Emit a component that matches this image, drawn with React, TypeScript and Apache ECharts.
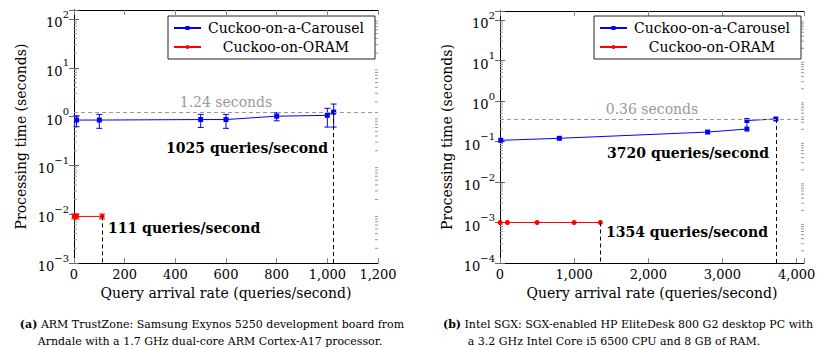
import React, { useEffect, useRef } from 'react';
import * as echarts from 'echarts';

// ---------- data ----------
const seriesNames = ['Cuckoo-on-a-Carousel', 'Cuckoo-on-ORAM'];

// (a) ARM TrustZone
const armCarouselX = [10, 100, 500, 600, 800, 1000, 1025];
const armCarouselY = [0.85, 0.85, 0.87, 0.87, 1.02, 1.06, 1.24];
const armCarouselLow = [0.62, 0.575, 0.6, 0.575, 0.82, 0.61, 0.61];
const armCarouselHigh = [1.04, 1.11, 1.11, 1.11, 1.2, 1.48, 1.81];
const armOramX = [1, 10, 111];
const armOramY = [0.009, 0.009, 0.009];
const armOramLow = [0.008, 0.008, 0.008];
const armOramHigh = [0.0101, 0.0101, 0.0101];
const armMaxTime = 1.24;
const armMaxRate = 1025;
const armOramRate = 111;
const armXRange = [0, 1200];
const armXStep = 200;
const armYRange = [0.001, 153];

// (b) Intel SGX
const sgxCarouselX = [10, 800, 2800, 3330, 3330, 3720];
const sgxCarouselY = [0.107, 0.12, 0.171, 0.203, 0.33, 0.36];
const sgxOramX = [1, 100, 500, 1000, 1354];
const sgxOramY = [0.001, 0.001, 0.001, 0.001, 0.001];
const sgxMaxTime = 0.36;
const sgxMaxRate = 3720;
const sgxOramRate = 1354;
const sgxXRange = [0, 4100];
const sgxXStep = 1000;
const sgxYRange = [0.0001, 167];

const captionA1 = '{b|(a)} ARM TrustZone: Samsung Exynos 5250 development board from';
const captionA2 = 'Arndale with a 1.7 GHz dual-core ARM Cortex-A17 processor.';
const captionB1 = '{b|(b)} Intel SGX: SGX-enabled HP EliteDesk 800 G2 desktop PC with';
const captionB2 = 'a 3.2 GHz Intel Core i5 6500 CPU and 8 GB of RAM.';

const FONT = "'DejaVu Serif', 'Liberation Serif', serif";
const BLUE = '#0000ff';
const RED = '#ff0000';

function minorTickValues(min: number, max: number): number[] {
  const out: number[] = [];
  for (let k = Math.floor(Math.log10(min)); k <= Math.ceil(Math.log10(max)); k++) {
    for (let m = 2; m <= 9; m++) {
      const v = m * Math.pow(10, k);
      if (v > min && v < max) out.push(v);
    }
  }
  return out;
}

function powLabel(v: number): string {
  const e = Math.log10(v);
  const r = Math.round(e);
  if (Math.abs(e - r) > 1e-6) return '';
  const s = r < 0 ? '\u2212' + Math.abs(r) : String(r);
  return `{b|10}{s|${s}}`;
}

const yLabelRich = {
  b: { fontSize: 13, fontFamily: FONT, color: '#000', lineHeight: 20, verticalAlign: 'bottom' },
  s: { fontSize: 10, fontFamily: FONT, color: '#000', lineHeight: 20, verticalAlign: 'top' },
};

export default function App() {
  const ref = useRef<HTMLDivElement>(null);
  useEffect(() => {
    if (!ref.current) return;
    const chart = echarts.init(ref.current, undefined, { renderer: 'svg' });

    const grids = [
      { left: 74, top: 10, width: 304, height: 253 },
      { left: 500, top: 11, width: 304, height: 252 },
    ];
    const xRanges = [armXRange, sgxXRange];
    const xSteps = [armXStep, sgxXStep];
    const yRanges = [armYRange, sgxYRange];

    const xAxes: any[] = [];
    const yAxes: any[] = [];
    for (let g = 0; g < 2; g++) {
      const [xmin, xmax] = xRanges[g];
      const [ymin, ymax] = yRanges[g];
      xAxes.push({
        type: 'value', gridIndex: g, position: 'bottom', min: xmin, max: xmax, interval: xSteps[g],
        name: 'Query arrival rate (queries/second)', nameLocation: 'middle', nameGap: 21,
        nameTextStyle: { fontSize: 14, fontFamily: FONT, color: '#000' },
        axisLine: { show: true, lineStyle: { color: '#000', width: 1 } },
        axisTick: { show: true, inside: true, length: 5, lineStyle: { color: '#888' } },
        axisLabel: {
          margin: 5, fontSize: 13, fontFamily: FONT, color: '#000',
          formatter: (v: number) => (v % xSteps[g] !== 0 ? '' : v.toLocaleString('en-US')),
        },
        splitLine: { show: false },
      });
      xAxes.push({
        type: 'value', gridIndex: g, position: 'top', min: xmin, max: xmax, interval: xSteps[g],
        axisLine: { show: true, lineStyle: { color: '#000', width: 1 } },
        axisTick: { show: true, inside: true, length: 5, lineStyle: { color: '#888' } },
        axisLabel: { show: false }, splitLine: { show: false },
      });
      yAxes.push({
        type: 'log', logBase: 10, gridIndex: g, position: 'left', min: ymin, max: ymax,
        name: 'Processing time (seconds)', nameLocation: 'middle', nameGap: 46,
        nameTextStyle: { fontSize: 14, fontFamily: FONT, color: '#000' },
        axisLine: { show: true, lineStyle: { color: '#000', width: 1 } },
        axisTick: { show: true, inside: true, length: 5, lineStyle: { color: '#666' } },
        axisLabel: { margin: 5, formatter: powLabel, rich: yLabelRich, fontFamily: FONT },
        splitLine: { show: false }, minorTick: { show: false },
      });
      yAxes.push({
        type: 'log', logBase: 10, gridIndex: g, position: 'right', min: ymin, max: ymax,
        axisLine: { show: true, lineStyle: { color: '#000', width: 1 } },
        axisTick: { show: true, inside: true, length: 5, lineStyle: { color: '#666' } },
        axisLabel: { show: false }, splitLine: { show: false },
      });
    }

    const minorSeries = (g: number) => ({
      type: 'custom', xAxisIndex: g * 2, yAxisIndex: g * 2, silent: true, clip: false,
      data: minorTickValues(yRanges[g][0], yRanges[g][1]).map((v) => [xRanges[g][0], v]),
      renderItem: (params: any, api: any) => {
        const p = api.coord([api.value(0), api.value(1)]);
        const cs = params.coordSys;
        const st = { stroke: '#999', lineWidth: 1 };
        return {
          type: 'group',
          children: [
            { type: 'line', shape: { x1: cs.x, y1: p[1], x2: cs.x + 3, y2: p[1] }, style: st },
            { type: 'line', shape: { x1: cs.x + cs.width - 3, y1: p[1], x2: cs.x + cs.width, y2: p[1] }, style: st },
          ],
        };
      },
    });

    const errorSeries = (g: number, xs: number[], lo: number[], hi: number[], color: string) => ({
      type: 'custom', xAxisIndex: g * 2, yAxisIndex: g * 2, silent: true, clip: false, z: 3,
      data: xs.map((x, i) => [x, lo[i], hi[i]]),
      renderItem: (_p: any, api: any) => {
        const a = api.coord([api.value(0), api.value(1)]);
        const b = api.coord([api.value(0), api.value(2)]);
        const st = { stroke: color, lineWidth: 1 };
        return {
          type: 'group',
          children: [
            { type: 'line', shape: { x1: a[0], y1: a[1], x2: b[0], y2: b[1] }, style: st },
            { type: 'line', shape: { x1: a[0] - 3, y1: a[1], x2: a[0] + 3, y2: a[1] }, style: st },
            { type: 'line', shape: { x1: b[0] - 3, y1: b[1], x2: b[0] + 3, y2: b[1] }, style: st },
          ],
        };
      },
    });

    const dashedBlack = { color: '#000', type: [4, 3], width: 1 };
    const dashedGray = { color: '#999', type: [4, 3], width: 1 };

    const maxMark = (time: number, rate: number, ymin: number) => ({
      symbol: 'none', silent: true, animation: false,
      data: [
        {
          yAxis: time, lineStyle: dashedGray,
          label: {
            show: true, position: 'insideMiddleTop', distance: 3, formatter: `${time} seconds`,
            color: '#999', fontSize: 14, fontFamily: FONT,
          },
        },
        [
          { coord: [rate, time], lineStyle: dashedBlack, label: { show: false } },
          { coord: [rate, ymin] },
        ],
      ],
    });
    const oramMark = (rate: number, time: number, ymin: number) => ({
      symbol: 'none', silent: true, animation: false,
      data: [[
        { coord: [rate, time], lineStyle: dashedBlack, label: { show: false } },
        { coord: [rate, ymin] },
      ]],
    });

    const lineSeries = (g: number, name: string, xs: number[], ys: number[], color: string, symbol: string, size: number, markLine: any) => ({
      type: 'line', name, xAxisIndex: g * 2, yAxisIndex: g * 2, clip: false, z: 4,
      data: xs.map((x, i) => [x, ys[i]]),
      symbol, symbolSize: size, showSymbol: true,
      lineStyle: { color, width: 1 }, itemStyle: { color },
      markLine,
    });

    const legend = (left: number) => ({
      left, top: 16, orient: 'vertical', padding: [5, 9, 5, 5], itemGap: 5,
      itemWidth: 27, itemHeight: 5,
      borderColor: '#222', borderWidth: 1, backgroundColor: '#fff',
      data: seriesNames, selectedMode: false,
      textStyle: {
        fontFamily: FONT, fontSize: 14, color: '#000',
        rich: { c: { width: 160, align: 'center', fontSize: 14, fontFamily: FONT, lineHeight: 16 } },
      },
      formatter: (n: string) => `{c|${n}}`,
    });

    const annText = (x: number, y: number, text: string, align: string) => ({
      type: 'text', x, y, silent: true,
      style: { text, fontFamily: FONT, fontSize: 14, fontWeight: 'bold', fill: '#000', align, verticalAlign: 'middle' },
    });
    const capText = (x: number, y: number, text: string) => ({
      type: 'text', x, y, silent: true,
      style: {
        text, fontFamily: FONT, fontSize: 11, fill: '#000', align: 'center', verticalAlign: 'middle',
        rich: { b: { fontWeight: 'bold', fontFamily: FONT, fontSize: 11 } },
      },
    });

    chart.setOption({
      animation: false,
      textStyle: { fontFamily: FONT },
      grid: grids,
      xAxis: xAxes,
      yAxis: yAxes,
      legend: [legend(168), legend(594)],
      series: [
        minorSeries(0),
        minorSeries(1),
        errorSeries(0, armCarouselX, armCarouselLow, armCarouselHigh, BLUE),
        errorSeries(0, armOramX, armOramLow, armOramHigh, RED),
        lineSeries(0, seriesNames[0], armCarouselX, armCarouselY, BLUE, 'rect', 5, maxMark(armMaxTime, armMaxRate, armYRange[0])),
        lineSeries(0, seriesNames[1], armOramX, armOramY, RED, 'circle', 5, oramMark(armOramRate, armOramY[armOramY.length - 1], armYRange[0])),
        lineSeries(1, seriesNames[0], sgxCarouselX, sgxCarouselY, BLUE, 'rect', 5, maxMark(sgxMaxTime, sgxMaxRate, sgxYRange[0])),
        lineSeries(1, seriesNames[1], sgxOramX, sgxOramY, RED, 'circle', 5, oramMark(sgxOramRate, sgxOramY[sgxOramY.length - 1], sgxYRange[0])),
      ],
      graphic: [
        annText(328, 148, `${armMaxRate} queries/second`, 'right'),
        annText(108, 228, `${armOramRate} queries/second`, 'left'),
        annText(769, 153, `${sgxMaxRate} queries/second`, 'right'),
        annText(606, 232, `${sgxOramRate} queries/second`, 'left'),
        capText(212, 324, captionA1),
        capText(210, 341, captionA2),
        capText(628, 324, captionB1),
        capText(614, 341, captionB2),
      ],
    } as any);
    return () => chart.dispose();
  }, []);
  return <div ref={ref} style={{ position: 'fixed', left: 0, top: 0, width: 829, height: 349, background: '#fff' }} />;
}
